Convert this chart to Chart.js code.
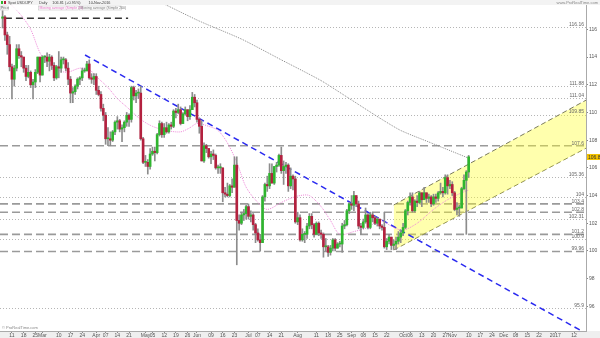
<!DOCTYPE html>
<html>
<head>
<meta charset="utf-8">
<script src="https://cdn.jsdelivr.net/npm/chart.js@4/dist/chart.umd.min.js"></script>
<style>
  html, body { margin: 0; padding: 0; background: #fff; }
  #wrap { position: relative; width: 600px; height: 338px; }
</style>
</head>
<body>
<div id="wrap"><canvas id="chart"></canvas></div>
<script>
// Daily USD/JPY candles, 5 Feb 2016 (index 0) to 10 Nov 2016 (index 199), one entry per weekday.
const opens = [
  116.8,116.9,115.6,114.9,113.3,112.4,113.2,114.6,114.1,114.0,113.2,112.6,112.9,112.0,112.2,112.9,114.0,
  112.7,114.0,114.0,113.7,114.0,113.4,112.5,113.3,113.2,113.8,113.8,113.2,112.4,111.4,111.5,111.9,112.4,112.5,113.0,113.0,113.5,112.5,112.4,
  112.6,111.6,111.3,110.3,109.8,108.1,108.1,108.0,108.6,109.3,109.4,108.8,108.9,109.3,109.8,109.5,111.8,111.2,111.4,111.4,108.1,
  106.4,106.4,106.1,107.0,107.2,107.1,108.4,109.2,108.4,108.9,108.6,109.1,109.0,110.1,110.0,110.2,109.2,109.9,110.2,109.7,110.2,111.1,
  110.7,109.5,109.0,106.5,107.6,107.4,106.8,107.0,106.9,106.0,106.0,106.0,104.2,104.1,104.0,104.7,104.6,106.2,102.2,102.0,102.6,102.7,
  103.2,102.5,102.6,101.9,101.3,100.8,100.6,103.9,104.8,104.7,105.6,104.9,106.1,106.2,106.9,105.8,106.1,106.2,104.7,105.4,105.2,
  102.1,102.4,100.8,101.2,101.2,101.8,102.5,101.9,101.2,102.0,101.3,101.2,100.3,100.3,99.9,100.2,100.8,100.2,100.5,100.5,101.8,101.9,102.9,
  103.4,103.3,104.0,103.4,101.8,101.7,102.1,102.6,101.7,102.6,102.4,102.0,102.3,101.8,101.7,100.3,100.7,101.0,100.4,100.5,100.7,101.0,
  101.3,101.7,102.9,103.5,103.9,102.9,103.6,103.5,104.2,103.7,104.2,103.8,103.9,103.4,103.9,103.8,104.2,104.3,104.2,105.3,104.7,
  104.8,104.2,103.0,103.1,103.1,104.5,105.1,105.7
];
const highs = [
  117.6,117.0,115.8,115.5,113.5,113.4,114.9,114.9,114.4,114.0,113.4,113.4,113.0,112.4,113.1,114.0,114.0,
  114.1,114.1,114.3,114.2,114.1,113.6,113.4,114.4,114.0,114.0,113.9,113.6,112.6,111.8,112.0,112.5,112.6,113.2,113.2,113.7,113.8,112.8,112.8,
  112.8,111.9,111.5,110.6,110.0,108.9,108.6,108.7,109.4,109.7,109.5,109.1,109.4,110.0,109.9,111.9,111.9,111.6,111.7,111.9,108.2,
  106.9,106.6,107.4,107.5,107.5,108.5,109.4,109.3,109.2,109.3,109.2,109.3,110.2,110.3,110.6,110.4,110.0,110.4,110.2,110.5,111.45,111.3,
  110.9,109.6,109.4,107.8,107.7,107.4,107.2,107.3,107.0,106.2,106.3,106.0,104.6,104.9,104.8,105.2,106.8,106.8,102.6,102.8,103.0,103.3,
  103.4,102.9,102.7,102.0,101.6,101.2,104.0,104.9,105.4,106.3,106.3,106.1,106.4,107.0,107.5,106.5,106.4,106.3,106.0,105.5,105.4,
  102.8,102.6,101.6,101.4,102.0,102.7,102.7,102.0,102.1,102.1,101.5,101.3,100.9,100.4,100.4,100.9,100.9,100.6,100.7,102.0,102.2,103.0,103.5,
  104.0,104.3,104.0,103.6,102.0,102.3,103.1,102.7,102.8,102.8,102.5,102.4,102.3,101.9,102.8,100.9,101.2,101.0,100.8,101.0,101.4,101.5,
  102.0,103.0,103.6,104.2,104.2,103.7,104.0,104.3,104.2,104.6,104.2,104.1,104.0,104.1,104.1,104.3,104.9,104.6,105.5,105.5,105.1,
  105.0,104.3,103.5,103.3,104.6,105.5,105.8,106.9
];
const lows = [
  116.1,115.2,114.2,113.0,110.98,111.9,113.0,113.9,113.3,112.9,112.3,112.5,111.8,110.98,111.8,112.8,112.2,
  112.7,113.6,113.3,113.0,113.1,112.3,112.4,112.5,112.9,113.5,113.0,112.0,110.7,110.7,111.3,111.7,112.0,112.3,112.9,113.0,112.4,112.1,112.0,
  111.3,111.2,110.1,109.4,107.7,107.6,107.6,107.9,108.4,108.8,108.6,107.9,108.6,109.0,109.0,109.3,110.9,110.7,111.0,108.0,106.3,
  106.1,105.55,105.9,106.9,106.5,107.0,108.3,108.2,108.2,108.5,108.5,108.8,108.9,109.6,109.9,109.1,109.2,109.8,109.4,109.5,110.2,110.4,
  109.3,108.5,106.5,106.4,107.1,106.7,106.3,106.6,105.9,105.6,105.6,103.55,103.9,103.9,103.9,104.2,104.6,99.0,101.5,101.9,102.2,102.3,
  102.3,102.1,101.5,100.6,100.7,99.98,100.6,103.6,104.3,104.5,104.9,104.8,105.7,106.1,105.6,104.8,105.6,104.3,104.5,104.4,102.0,
  101.9,100.7,100.7,100.6,100.9,101.6,101.6,101.0,101.2,101.1,100.9,99.55,100.0,99.6,99.7,100.0,100.0,100.2,100.3,99.9,101.6,101.8,102.7,
  103.0,102.9,103.2,101.6,101.2,101.6,102.0,101.6,101.6,102.1,101.9,101.8,101.6,101.5,100.2,100.1,100.5,100.1,100.1,100.1,100.5,100.6,
  101.1,101.6,102.6,103.3,102.8,102.8,103.2,103.4,103.2,103.7,103.5,103.5,103.2,103.3,103.5,103.6,104.1,103.9,104.1,104.1,104.5,
  104.0,102.9,102.6,102.5,103.1,104.4,101.2,105.3
];
const closes = [
  116.9,115.6,114.9,113.3,112.4,113.2,114.6,114.1,114.0,113.2,112.6,112.9,112.0,112.2,112.9,114.0,112.7,
  114.0,114.0,113.7,114.0,113.4,112.5,113.3,113.2,113.8,113.8,113.2,112.4,111.4,111.5,111.9,112.4,112.5,113.0,113.0,113.5,112.5,112.4,112.6,
  111.6,111.3,110.3,109.8,108.1,108.1,108.0,108.6,109.3,109.4,108.8,108.9,109.3,109.8,109.5,111.8,111.2,111.4,111.4,108.1,106.4,
  106.4,106.1,107.0,107.2,107.1,108.4,109.2,108.4,108.9,108.6,109.1,109.0,110.1,110.0,110.2,109.2,109.9,110.2,109.7,110.2,111.1,110.7,
  109.5,109.0,106.5,107.6,107.4,106.8,107.0,106.9,106.0,106.0,106.0,104.2,104.1,104.0,104.7,104.6,106.2,102.2,102.0,102.6,102.7,103.2,
  102.5,102.6,101.9,101.3,100.8,100.6,103.9,104.8,104.7,105.6,104.9,106.1,106.2,106.9,105.8,106.1,106.2,104.7,105.4,105.2,102.1,
  102.4,100.8,101.2,101.2,101.8,102.5,101.9,101.2,102.0,101.3,101.2,100.3,100.3,99.9,100.2,100.8,100.2,100.5,100.5,101.8,101.9,102.9,103.4,
  103.3,104.0,103.4,101.8,101.7,102.1,102.6,101.7,102.6,102.4,102.0,102.3,101.8,101.7,100.3,100.7,101.0,100.4,100.5,100.7,101.0,101.3,
  101.7,102.9,103.5,103.9,102.9,103.6,103.5,104.2,103.7,104.2,103.8,103.9,103.4,103.9,103.8,104.2,104.3,104.2,105.3,104.7,104.8,
  104.2,103.0,103.1,103.1,104.5,105.1,105.7,106.8
];

// Moving averages: [day index, value]
const ma20 = [
  [3,117.9],[8,117.0],[12,116.0],[16,114.3],[20,113.4],[27,112.9],[33,113.2],[37,113.1],[40,112.6],[45,111.8],[49,111.0],
  [53,110.4],[59,109.5],[64,109.0],[70,108.7],[76,108.6],[80,108.9],[83,109.2],[88,109.0],[92,108.7],[96,107.8],
  [100,106.4],[104,104.6],[109,103.5],[113,103.0],[119,103.5],[123,103.8],[127,104.0],[131,104.0],[136,103.2],
  [140,102.2],[144,101.2],[150,101.4],[156,101.7],[161,102.2],[167,101.7],[171,101.5],[177,102.0],[184,103.0],
  [190,103.7],[196,104.2],[199,104.4]
];
const ma200 = [
  [58,118.8],[67,118.0],[84,116.6],[102,115.3],[119,113.8],[136,112.3],[149,110.9],[161,109.6],[170,108.7],[183,107.8],[199,106.7]
];

// Drawn trend line and channel: [day index, value]
const trendLine = [[35.2,114.15],[248,94.15]];
const channelUpper = [[167,103.32],[250,110.97]];
const channelLower = [[167,100.07],[250,107.50]];

// Horizontal levels
const dashedLevels = [107.6, 103.4, 102.8, 101.2, 99.96];
const dashedLabels = ['107.6', '103.4', '102.8', '101.2', '99.96'];
const dottedLevels = [116.16, 111.88, 111.04, 109.85, 105.36, 103.92, 102.31, 100.87, 95.9];
const dottedLabels = ['116.16', '111.88', '111.04', '109.85', '105.36', '104', '102.31', '100.9', '95.9'];
const topLevel = { value: 116.8, from: 1, to: 53.6 };
const lastPrice = 106.81;

// Axes
const yTicks = [96, 98, 100, 102, 104, 106, 108, 110, 112, 114, 116];
const xTicks = [
  [4,'11'],[9,'18'],[14,'25'],[17,'Mar'],[24,'10'],[29,'17'],[34,'24'],[40,'Apr'],[44,'07'],[49,'14'],[54,'21'],
  [61,'May'],[64,'05'],[69,'12'],[74,'19'],[79,'26'],[83,'Jun'],[89,'09'],[94,'16'],[99,'23'],[105,'Jul'],[109,'07'],
  [114,'14'],[119,'21'],[126,'Aug'],[134,'11'],[139,'18'],[144,'25'],[149,'Sep'],[154,'08'],[159,'15'],[164,'22'],
  [171,'Oct'],[174,'06'],[179,'13'],[184,'20'],[189,'27'],[192,'Nov'],[199,'10'],[204,'17'],[209,'24'],[214,'Dec'],
  [219,'08'],[224,'15'],[229,'22'],[236,'2017'],[244,'12']
];

const green = '#2fb52f';
const red = '#b3213f';
const wickGray = '#8c8c8c';
const font = 'Liberation Sans, Arial, sans-serif';
const pts = (arr) => arr.map(([x, y]) => ({ x, y }));

// writes a row of small texts one after another
function textRow(ctx, items, x, y) {
  items.forEach(([txt, color, gap]) => {
    ctx.fillStyle = color;
    ctx.fillText(txt, x, y);
    x += ctx.measureText(txt).width + gap;
  });
}

const overlay = {
  id: 'overlay',
  beforeDraw(chart) {
    const { ctx, chartArea: a } = chart;
    ctx.save();
    ctx.fillStyle = '#efefef';
    ctx.fillRect(0, a.bottom, chart.width, chart.height - a.bottom);
    ctx.restore();
  },
  beforeDatasetsDraw(chart) {
    const { ctx, chartArea: a, scales: { x, y } } = chart;
    ctx.save();
    ctx.beginPath();
    ctx.rect(a.left, a.top, a.width, a.height);
    ctx.clip();
    ctx.lineWidth = 1;
    ctx.strokeStyle = '#b5b5b5';
    ctx.setLineDash([1, 2]);
    dottedLevels.forEach((v) => {
      const py = Math.round(y.getPixelForValue(v)) + 0.5;
      ctx.beginPath(); ctx.moveTo(a.left, py); ctx.lineTo(a.right, py); ctx.stroke();
    });
    ctx.lineWidth = 1.6;
    ctx.strokeStyle = '#9a9a9a';
    ctx.setLineDash([8, 4]);
    dashedLevels.forEach((v) => {
      const py = y.getPixelForValue(v);
      ctx.beginPath(); ctx.moveTo(a.left, py); ctx.lineTo(a.right, py); ctx.stroke();
    });
    ctx.strokeStyle = '#333';
    ctx.setLineDash([7, 4]);
    const ty = y.getPixelForValue(topLevel.value);
    ctx.beginPath(); ctx.moveTo(x.getPixelForValue(topLevel.from), ty); ctx.lineTo(x.getPixelForValue(topLevel.to), ty); ctx.stroke();
    ctx.restore();
  },
  afterDraw(chart) {
    const { ctx, chartArea: a, scales: { y } } = chart;
    ctx.save();
    ctx.font = `5px ${font}`;
    ctx.textBaseline = 'bottom';
    ctx.textAlign = 'right';
    ctx.fillStyle = '#666';
    dottedLevels.forEach((v, i) => ctx.fillText(dottedLabels[i], a.right - 2, y.getPixelForValue(v)));
    dashedLevels.forEach((v, i) => ctx.fillText(dashedLabels[i], a.right - 2, y.getPixelForValue(v)));

    // last price marker on the axis
    const py = Math.round(y.getPixelForValue(lastPrice));
    ctx.fillStyle = '#f5c400';
    ctx.fillRect(a.right + 1, py - 3, 13, 6);
    ctx.fillStyle = '#333';
    ctx.textAlign = 'left';
    ctx.textBaseline = 'middle';
    ctx.fillText(lastPrice.toFixed(2), a.right + 2, py + 0.5);

    // header band and legend
    ctx.fillStyle = '#f3f3f3';
    ctx.fillRect(0, 0, chart.width, 5);
    ctx.font = `3.8px ${font}`;
    textRow(ctx, [['Spot USD/JPY', '#444', 6], ['Daily', '#444', 5], ['106.81 (+0.95%)', '#444', 8], ['10-Nov-2016', '#444', 0]], 8, 2.6);
    ctx.fillStyle = green; ctx.fillRect(1, 1, 2, 3);
    ctx.fillStyle = red; ctx.fillRect(4, 1, 2, 3);
    ctx.font = `3.5px ${font}`;
    ctx.fillStyle = 'rgba(255,255,255,0.85)';
    ctx.fillRect(0, 5.5, 122, 5);
    ctx.strokeStyle = '#bbb'; ctx.lineWidth = 0.5;
    ctx.strokeRect(0.5, 6, 8, 4);
    ctx.strokeRect(38.5, 6, 40, 4);
    ctx.strokeRect(79.5, 6, 42, 4);
    ctx.fillStyle = '#555'; ctx.fillText('Price', 1, 8);
    ctx.fillStyle = '#e070c0'; ctx.fillText('Moving average (Simple 20)', 39.5, 8);
    ctx.fillStyle = '#777'; ctx.fillText('Moving average (Simple 200)', 80.5, 8);
    ctx.font = `4px ${font}`;
    ctx.fillStyle = '#888'; ctx.textAlign = 'right';
    ctx.fillText('www.ProRealTime.com', 598, 2.6);
    ctx.textAlign = 'left';
    ctx.fillText('\u00a9 ProRealTime.com', 2, a.bottom - 3);
    ctx.restore();
  }
};

new Chart(document.getElementById('chart'), {
  type: 'bar',
  data: {
    datasets: [
      {
        label: 'Body',
        data: opens.map((o, i) => ({ x: i, y: [o, closes[i]] })),
        backgroundColor: opens.map((o, i) => (closes[i] >= o ? green : red)),
        barThickness: 2,
        minBarLength: 1,
        grouped: false,
        order: 0
      },
      {
        label: 'Wick',
        data: lows.map((l, i) => ({ x: i, y: [l, highs[i]] })),
        backgroundColor: wickGray,
        barThickness: 1,
        grouped: false,
        order: 1
      },
      {
        type: 'line', label: 'MA20', data: pts(ma20),
        borderColor: '#ee88d8', borderWidth: 1, borderDash: [1, 1], pointRadius: 0, tension: 0.3, order: 2
      },
      {
        type: 'line', label: 'MA200', data: pts(ma200),
        borderColor: '#8a8a8a', borderWidth: 1, borderDash: [1, 1], pointRadius: 0, tension: 0.2, order: 2
      },
      {
        type: 'line', label: 'Trend', data: pts(trendLine),
        borderColor: '#2a2af0', borderWidth: 1.5, borderDash: [6, 4], pointRadius: 0, order: 3
      },
      {
        type: 'line', label: 'Channel top', data: pts(channelUpper),
        borderColor: '#7a7a5a', borderWidth: 1, borderDash: [5, 3], pointRadius: 0,
        fill: '+1', backgroundColor: 'rgba(255,255,40,0.38)', order: 5
      },
      {
        type: 'line', label: 'Channel bottom', data: pts(channelLower),
        borderColor: '#7a7a5a', borderWidth: 1, borderDash: [5, 3], pointRadius: 0, order: 6
      }
    ]
  },
  options: {
    responsive: true,
    maintainAspectRatio: false,
    animation: false,
    devicePixelRatio: 1,
    layout: { padding: { top: 5, left: 0, right: 0, bottom: 0 } },
    plugins: { legend: { display: false }, tooltip: { enabled: false } },
    scales: {
      x: {
        type: 'linear',
        offset: false,
        min: -1.1,
        max: 249.1,
        afterBuildTicks: (s) => { s.ticks = xTicks.map(([v]) => ({ value: v })); },
        afterFit: (s) => { s.height = 7; s.paddingLeft = 0; s.paddingRight = 0; },
        ticks: {
          autoSkip: false, maxRotation: 0, padding: 0,
          font: { size: 5, family: font }, color: '#555',
          callback: (v) => (xTicks.find((t) => t[0] === v) || [0, ''])[1]
        },
        grid: { display: true, drawOnChartArea: false, tickLength: 2, color: '#888', offset: false },
        border: { display: true, color: '#aaa' }
      },
      y: {
        position: 'right',
        min: 94.22,
        max: 117.76,
        afterBuildTicks: (s) => { s.ticks = yTicks.map((v) => ({ value: v })); },
        afterFit: (s) => { s.width = 14; },
        ticks: { padding: 1, font: { size: 5, family: font }, color: '#555' },
        grid: { display: true, drawOnChartArea: false, tickLength: 2, color: '#888' },
        border: { display: true, color: '#aaa' }
      }
    }
  },
  plugins: [overlay]
});
</script>
</body>
</html>
